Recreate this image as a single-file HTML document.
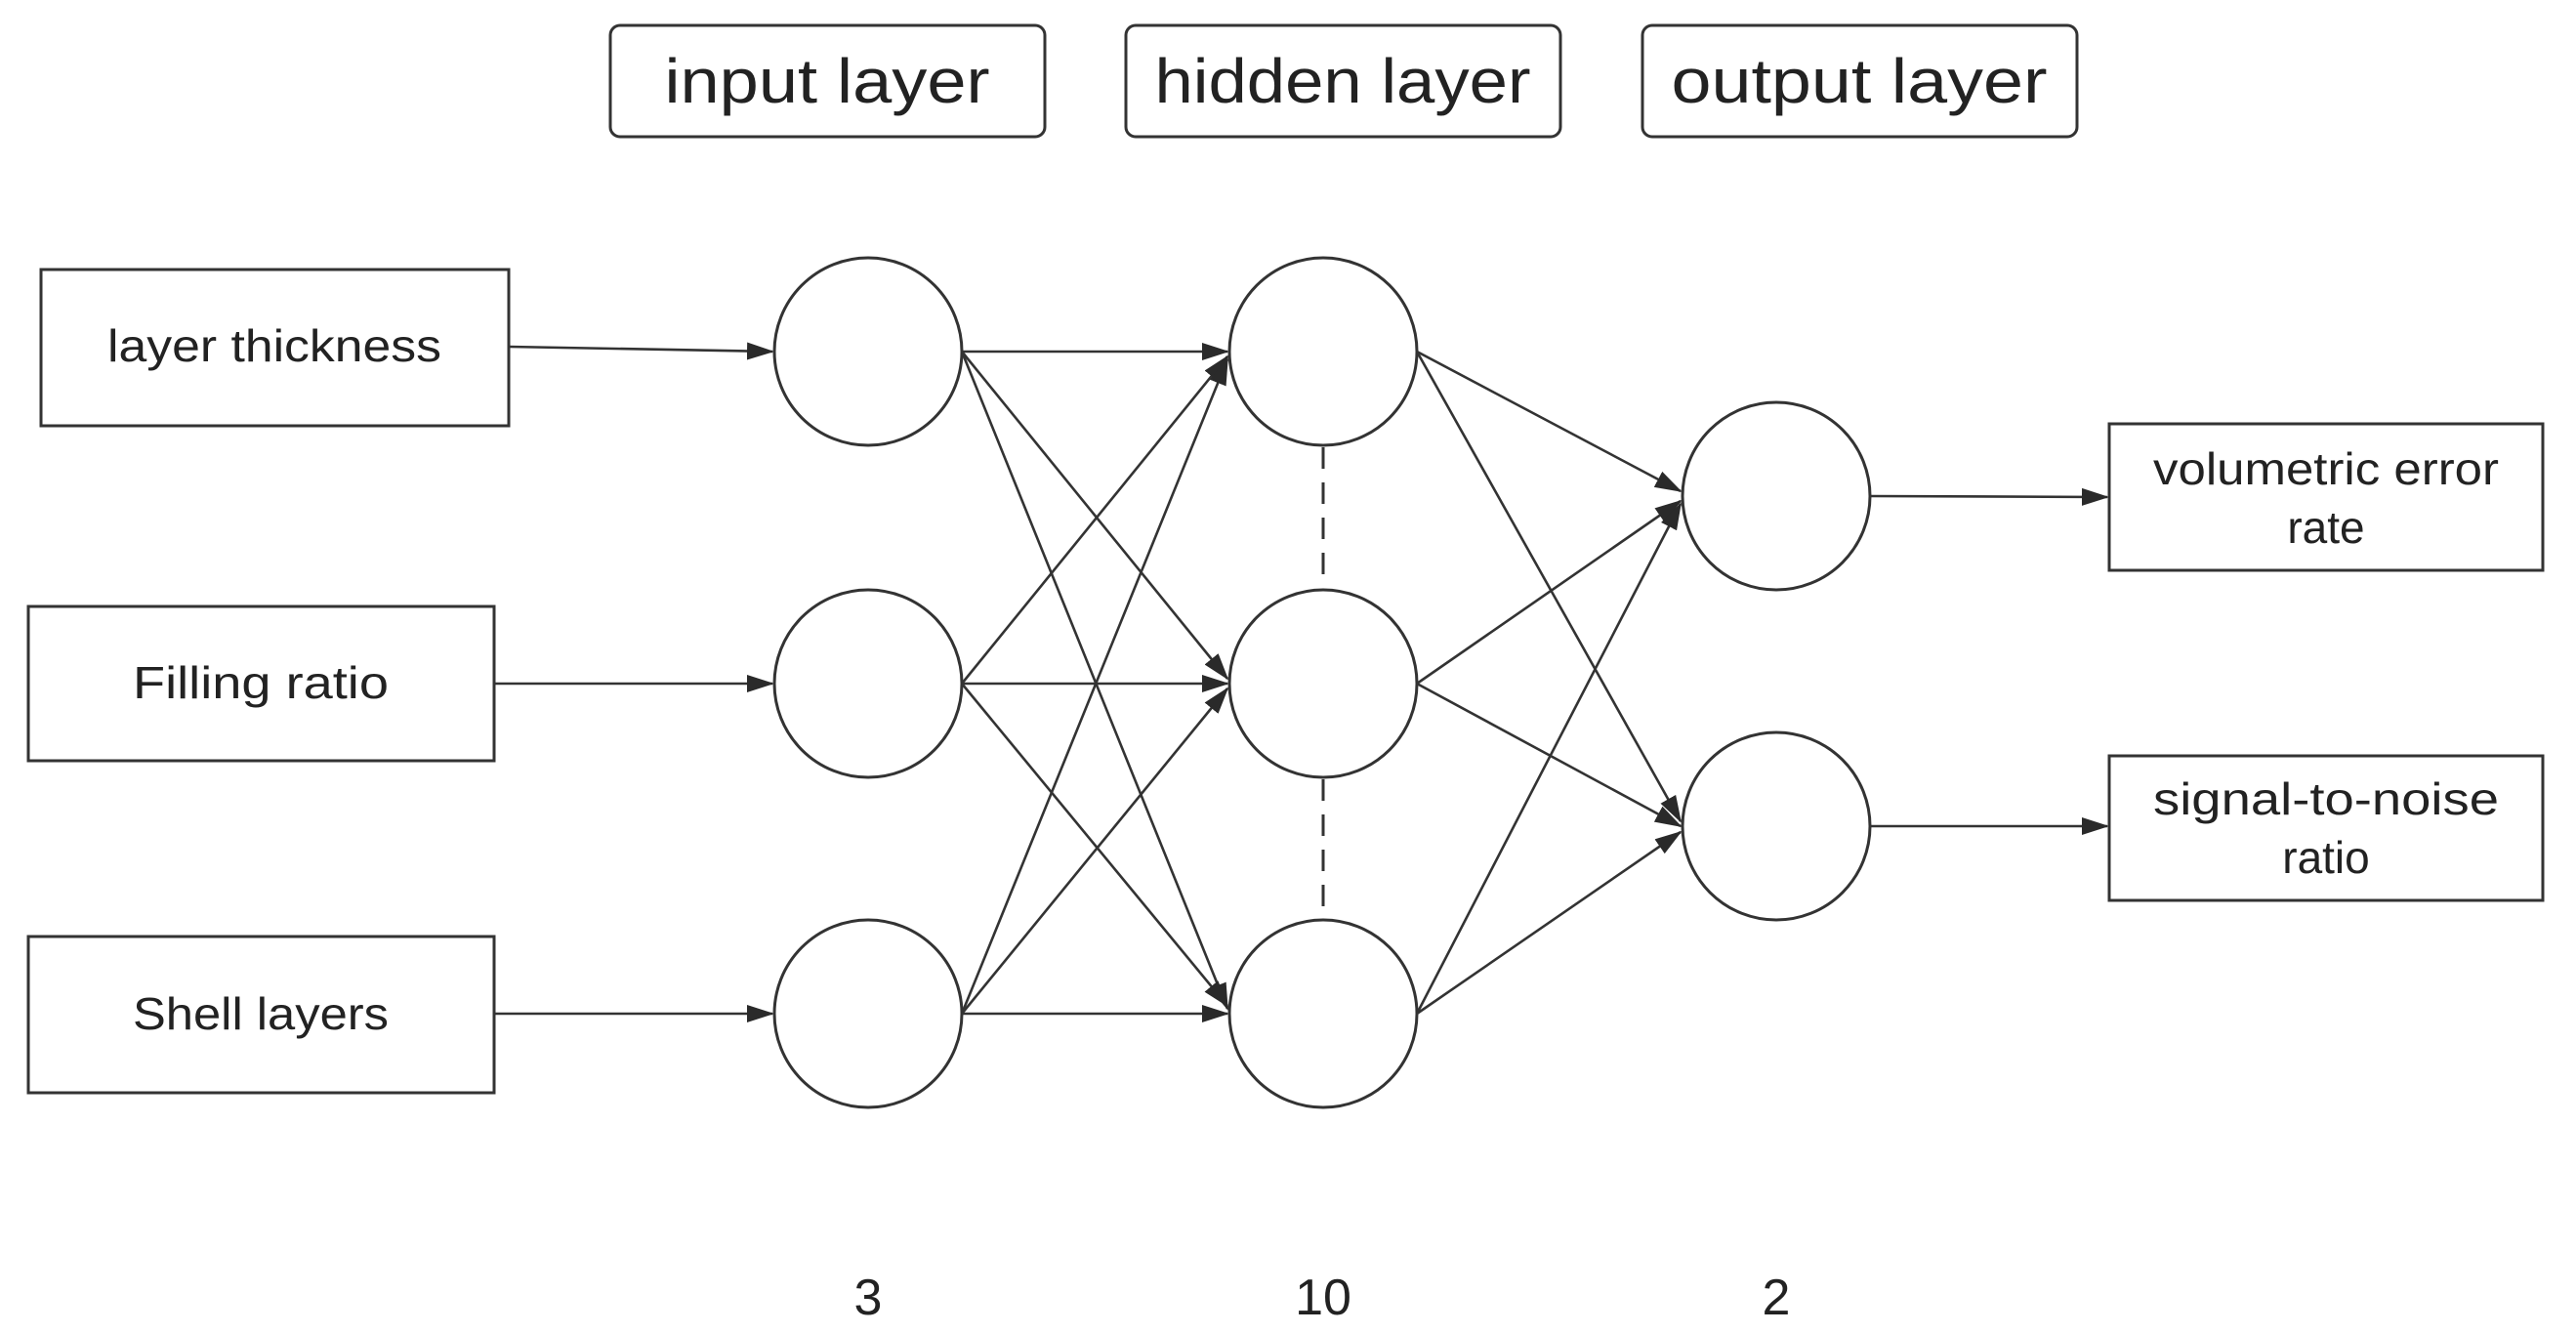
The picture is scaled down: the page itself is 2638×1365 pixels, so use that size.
<!DOCTYPE html>
<html><head><meta charset="utf-8"><style>
html,body{margin:0;padding:0;background:#fff;}
svg{display:block;}
text{font-family:"Liberation Sans","DejaVu Sans",sans-serif;fill:#222;}
</style></head><body>
<svg width="2638" height="1365" viewBox="0 0 2638 1365" xmlns="http://www.w3.org/2000/svg">
<defs>
<marker id="a" markerWidth="28" markerHeight="18" refX="26" refY="9" orient="auto" markerUnits="userSpaceOnUse">
<path d="M0,0 L28,9 L0,18 Z" fill="#2a2a2a"/>
</marker>
</defs>
<g fill="none" stroke="#333" stroke-width="3">
<rect x="625" y="26" width="445" height="114" rx="10"/>
<rect x="1153" y="26" width="445" height="114" rx="10"/>
<rect x="1682" y="26" width="445" height="114" rx="10"/>
<rect x="42" y="276" width="479" height="160"/>
<rect x="29" y="621" width="477" height="158"/>
<rect x="29" y="959" width="477" height="160"/>
<rect x="2160" y="434" width="444" height="150"/>
<rect x="2160" y="774" width="444" height="148"/>
<ellipse cx="889" cy="360" rx="96" ry="96"/>
<ellipse cx="889" cy="700" rx="96" ry="96"/>
<ellipse cx="889" cy="1038" rx="96" ry="96"/>
<ellipse cx="1355" cy="360" rx="96" ry="96"/>
<ellipse cx="1355" cy="700" rx="96" ry="96"/>
<ellipse cx="1355" cy="1038" rx="96" ry="96"/>
<ellipse cx="1819" cy="508" rx="96" ry="96"/>
<ellipse cx="1819" cy="846" rx="96" ry="96"/>
<line x1="1355" y1="458" x2="1355" y2="602" stroke-dasharray="22,14"/>
<line x1="1355" y1="798" x2="1355" y2="940" stroke-dasharray="22,14"/>
</g>
<g stroke="#333" stroke-width="2.6" marker-end="url(#a)">
<line x1="521" y1="355" x2="791" y2="360"/>
<line x1="506" y1="700" x2="791" y2="700"/>
<line x1="506" y1="1038" x2="791" y2="1038"/>
<line x1="985" y1="360" x2="1257" y2="360"/>
<line x1="985" y1="360" x2="1257" y2="695"/>
<line x1="985" y1="360" x2="1257" y2="1033"/>
<line x1="985" y1="700" x2="1257" y2="365"/>
<line x1="985" y1="700" x2="1257" y2="700"/>
<line x1="985" y1="700" x2="1257" y2="1030"/>
<line x1="985" y1="1038" x2="1257" y2="368"/>
<line x1="985" y1="1038" x2="1257" y2="705"/>
<line x1="985" y1="1038" x2="1257" y2="1038"/>
<line x1="1451" y1="360" x2="1721" y2="503"/>
<line x1="1451" y1="360" x2="1721" y2="841"/>
<line x1="1451" y1="700" x2="1721" y2="513"/>
<line x1="1451" y1="700" x2="1721" y2="846"/>
<line x1="1451" y1="1038" x2="1721" y2="516"/>
<line x1="1451" y1="1038" x2="1721" y2="852"/>
<line x1="1915" y1="508" x2="2158" y2="509"/>
<line x1="1915" y1="846" x2="2158" y2="846"/>
</g>
<g font-size="64" text-anchor="middle">
<text x="847" y="105" textLength="333" lengthAdjust="spacingAndGlyphs">input layer</text>
<text x="1375" y="105" textLength="385" lengthAdjust="spacingAndGlyphs">hidden layer</text>
<text x="1904" y="105" textLength="385" lengthAdjust="spacingAndGlyphs">output layer</text>
</g>
<g font-size="46" text-anchor="middle">
<text x="281" y="370" textLength="342" lengthAdjust="spacingAndGlyphs">layer thickness</text>
<text x="267" y="715" textLength="262" lengthAdjust="spacingAndGlyphs">Filling ratio</text>
<text x="267" y="1054" textLength="262" lengthAdjust="spacingAndGlyphs">Shell layers</text>
<text x="2382" y="496" textLength="354" lengthAdjust="spacingAndGlyphs">volumetric error</text>
<text x="2382" y="556">rate</text>
<text x="2382" y="834" textLength="354" lengthAdjust="spacingAndGlyphs">signal-to-noise</text>
<text x="2382" y="894">ratio</text>
</g>
<g font-size="52" text-anchor="middle">
<text x="889" y="1346">3</text>
<text x="1355" y="1346">10</text>
<text x="1819" y="1346">2</text>
</g>
</svg>
</body></html>
